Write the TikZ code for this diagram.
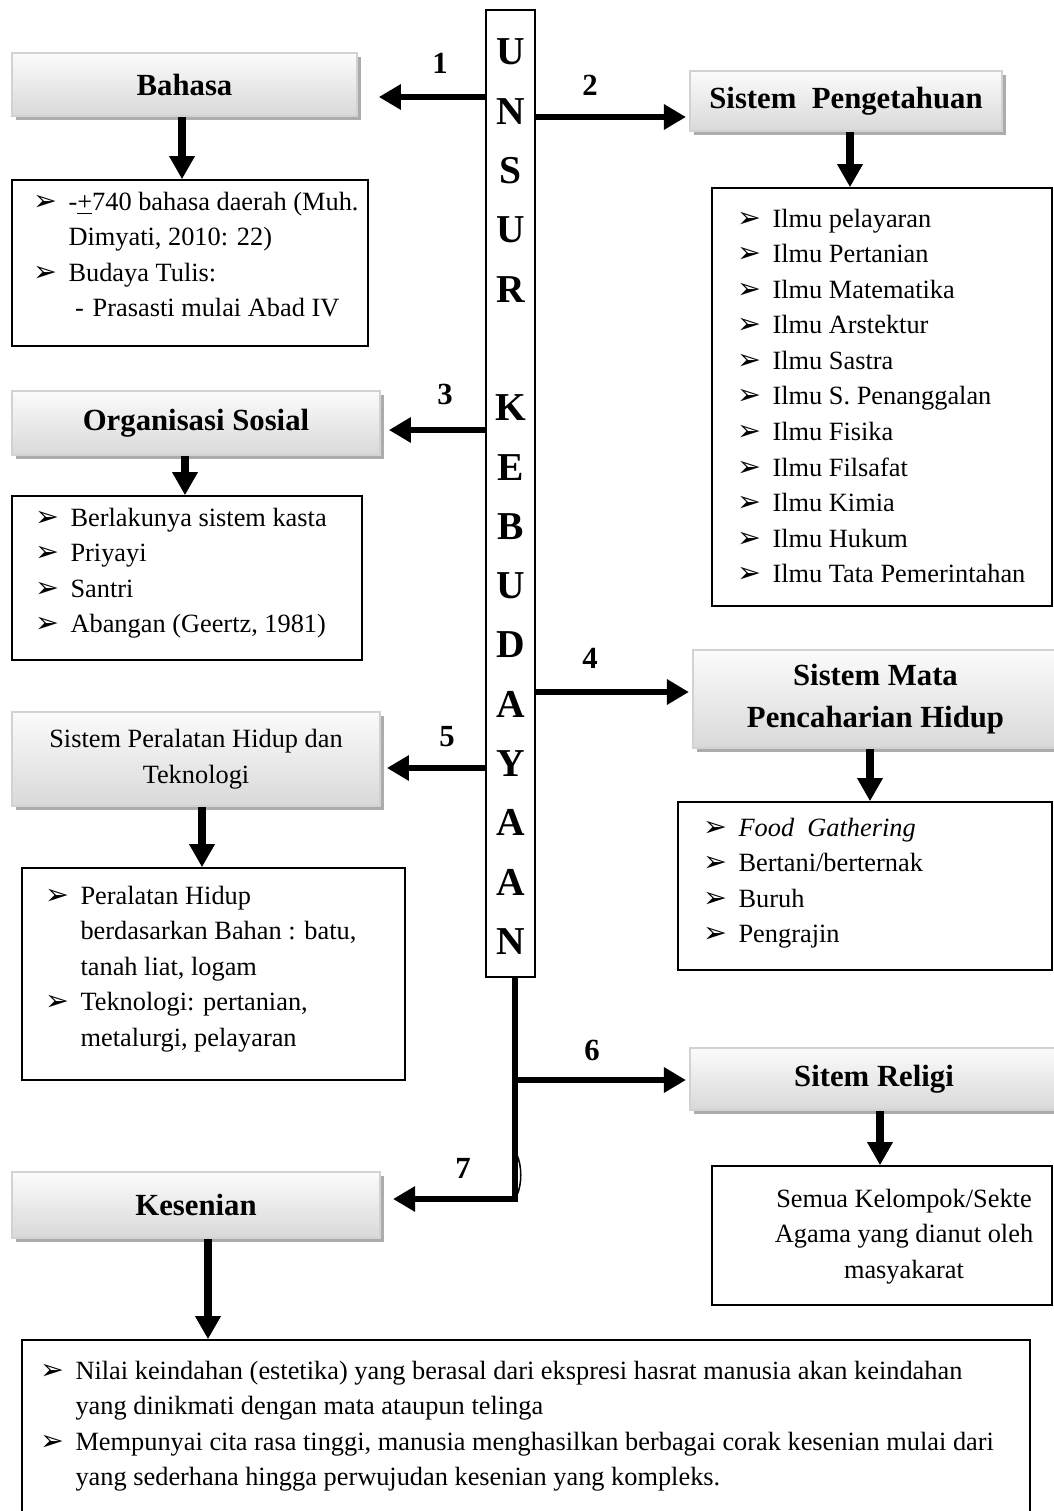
\documentclass[tikz,border=0pt]{standalone}
\usepackage{fontspec}
\setmainfont{Liberation Serif}
\newfontfamily\symfont{DejaVu Sans}
\usetikzlibrary{arrows.meta,fit,shadows}

% bullet and continuation indent for the lists
\newcommand{\bul}{\makebox[16pt][l]{\symfont\fontsize{13}{13}\selectfont ➢}}
\newcommand{\cont}{\hspace*{16pt}}

\begin{document}
\begin{tikzpicture}[
    x=0.016cm, y=-0.016cm,
    % Styles
    header/.style={draw=gray!35, line width=0.9pt, top color=gray!3, bottom color=gray!30, inner sep=0pt,
        drop shadow={shadow xshift=1.8pt, shadow yshift=-1.8pt, fill=gray!65, opacity=1}},
    listbox/.style={draw=black, line width=0.7pt, inner sep=0pt},
    colbox/.style={draw=black, line width=0.7pt, inner sep=0pt},
    hd/.style={font=\fontsize{14}{19}\selectfont\bfseries, align=center, inner sep=0pt},
    hdplain/.style={font=\fontsize{12}{16.2}\selectfont, align=center, inner sep=0pt},
    txt/.style={font=\fontsize{12}{16.2}\selectfont, inner sep=0pt, anchor=base west},
    num/.style={font=\fontsize{14}{14}\selectfont\bfseries},
    letter/.style={font=\fontsize{18}{18}\selectfont\bfseries},
    side/.style={line width=2.7pt, -{Triangle[length=10pt,width=11pt]}},
    down/.style={line width=3.6pt, -{Triangle[length=10.5pt,width=11pt]}},
    bumpline/.style={line width=0.7pt}
]

    \useasboundingbox (0,0) rectangle (1054,1511);

    % ==========================================
    % 1. CENTRAL COLUMN: UNSUR KEBUDAYAAN
    % ==========================================
    \node[colbox, fit={(486,10) (535,977)}] (unsur) {};
    \foreach \ch/\i in {U/0,N/1,S/2,U/3,R/4,K/6,E/7,B/8,U/9,D/10,A/11,Y/12,A/13,A/14,N/15}
        \node[letter] (c\i) at (510.5, 52+59.3*\i) {\ch};

    % ==========================================
    % 2. HEADER BOXES
    % ==========================================
    \node[header, fit={(12,53) (357,116)}] (bahasa) {};
    \node[hd] (bahasalbl) at (bahasa.center) {Bahasa};
    \node[header, fit={(690,71) (1002,131)}] (peng) {};
    \node[hd] (penglbl) at (peng.center) {Sistem\ \ Pengetahuan};
    \node[header, fit={(12,391) (380,455)}] (org) {};
    \node[hd] (orglbl) at (org.center) {Organisasi Sosial};
    \node[header, fit={(693,650) (1058,748)}] (mata) {};
    \node[hd] (matalbl) at (mata.center) {Sistem Mata\\Pencaharian Hidup};
    \node[header, fit={(12,712) (380,806)}] (alat) {};
    \node[hdplain] (alatlbl) at (alat.center) {Sistem Peralatan Hidup dan\\Teknologi};
    \node[header, fit={(690,1048) (1058,1110)}] (religi) {};
    \node[hd] (religilbl) at (religi.center) {Sitem Religi};
    \node[header, fit={(12,1172) (380,1238)}] (seni) {};
    \node[hd] (senilbl) at (seni.center) {Kesenian};

    % ==========================================
    % 3. LIST BOXES
    % ==========================================
    \node[listbox, fit={(12,180) (368,346)}] (bahasalist) {};
    \node[txt] (bahasatxt) at (33,210) {\begin{tabular}[t]{@{}l@{}}
        \bul -\underline{+}740 bahasa daerah (Muh.\\
        \cont Dimyati, 2010: 22)\\
        \bul Budaya Tulis:\\
        \cont\hspace{3pt}-\hspace{4pt}Prasasti mulai Abad IV
    \end{tabular}};

    \node[listbox, fit={(712,188) (1052,606)}] (penglist) {};
    \node[txt] (pengtxt) at (737,227) {\begin{tabular}[t]{@{}l@{}}
        \bul Ilmu pelayaran\\
        \bul Ilmu Pertanian\\
        \bul Ilmu Matematika\\
        \bul Ilmu Arstektur\\
        \bul Ilmu Sastra\\
        \bul Ilmu S. Penanggalan\\
        \bul Ilmu Fisika\\
        \bul Ilmu Filsafat\\
        \bul Ilmu Kimia\\
        \bul Ilmu Hukum\\
        \bul Ilmu Tata Pemerintahan
    \end{tabular}};

    \node[listbox, fit={(12,496) (362,660)}] (orglist) {};
    \node[txt] (orgtxt) at (35,526) {\begin{tabular}[t]{@{}l@{}}
        \bul Berlakunya sistem kasta\\
        \bul Priyayi\\
        \bul Santri\\
        \bul Abangan (Geertz, 1981)
    \end{tabular}};

    \node[listbox, fit={(678,802) (1052,970)}] (matalist) {};
    \node[txt] (matatxt) at (703,836) {\begin{tabular}[t]{@{}l@{}}
        \bul \textit{Food\ \ Gathering}\\
        \bul Bertani/berternak\\
        \bul Buruh\\
        \bul Pengrajin
    \end{tabular}};

    \node[listbox, fit={(22,868) (405,1080)}] (alatlist) {};
    \node[txt] (alattxt) at (45,904) {\begin{tabular}[t]{@{}l@{}}
        \bul Peralatan Hidup\\
        \cont berdasarkan Bahan : batu,\\
        \cont tanah liat, logam\\
        \bul Teknologi: pertanian,\\
        \cont metalurgi, pelayaran
    \end{tabular}};

    \node[listbox, fit={(712,1166) (1052,1305)}] (religilist) {};
    \node[txt, anchor=base] (religitxt) at (904,1207) {\begin{tabular}[t]{@{}c@{}}
        Semua Kelompok/Sekte\\
        Agama yang dianut oleh\\
        masyakarat
    \end{tabular}};

    \node[listbox, fit={(22,1340) (1030,1530)}] (senilist) {};
    \node[txt] (senitxt) at (40,1379) {\begin{tabular}[t]{@{}l@{}}
        \bul Nilai keindahan (estetika) yang berasal dari ekspresi hasrat manusia akan keindahan\\
        \cont yang dinikmati dengan mata ataupun telinga\\
        \bul Mempunyai cita rasa tinggi, manusia menghasilkan berbagai corak kesenian mulai dari\\
        \cont yang sederhana hingga perwujudan kesenian yang kompleks.
    \end{tabular}};

    % ==========================================
    % 4. ARROWS FROM THE COLUMN
    % ==========================================
    \draw[side, shorten >=9.5pt] (unsur.west |- 0,97) -- (bahasa.east |- 0,97);
    \draw[side, shorten >=1.4pt] (unsur.east |- 0,117) -- (peng.west |- 0,117);
    \draw[side, shorten >=3.6pt] (unsur.west |- 0,430) -- (org.east |- 0,430);
    \draw[side, shorten >=1.4pt] (unsur.east |- 0,692) -- (mata.west |- 0,692);
    \draw[side, shorten >=2.7pt] (unsur.west |- 0,768) -- (alat.east |- 0,768);

    % trunk below the column, branches 6 and 7
    \coordinate (j6) at (515,1080);
    \coordinate (j7) at (515,1199);
    \draw[side, shorten >=5.5pt] (unsur.south -| j7) -- (j7) -- (seni.east |- j7);
    \draw[side, shorten >=1.4pt] (j6) -- (religi.west |- j6);
    \draw[bumpline] (517,1155) .. controls (522,1166) and (522,1184) .. (517,1195);

    % numbers
    \node[num] (n1) at (440,63) {1};
    \node[num] (n2) at (590,85) {2};
    \node[num] (n3) at (445,394) {3};
    \node[num] (n4) at (590,658) {4};
    \node[num] (n5) at (447,737) {5};
    \node[num] (n6) at (592,1050) {6};
    \node[num] (n7) at (463,1168) {7};

    % ==========================================
    % 5. ARROWS DOWN TO THE LISTS
    % ==========================================
    \draw[down] (bahasa.south -| 182,0) -- (bahasalist.north -| 182,0);
    \draw[down] (peng.south -| 850,0) -- (penglist.north -| 850,0);
    \draw[down] (org.south -| 185,0) -- (orglist.north -| 185,0);
    \draw[down] (mata.south -| 870,0) -- (matalist.north -| 870,0);
    \draw[down] (alat.south -| 202,0) -- (alatlist.north -| 202,0);
    \draw[down] (religi.south -| 880,0) -- (religilist.north -| 880,0);
    \draw[down] (seni.south -| 208,0) -- (senilist.north -| 208,0);

\end{tikzpicture}
\end{document}
